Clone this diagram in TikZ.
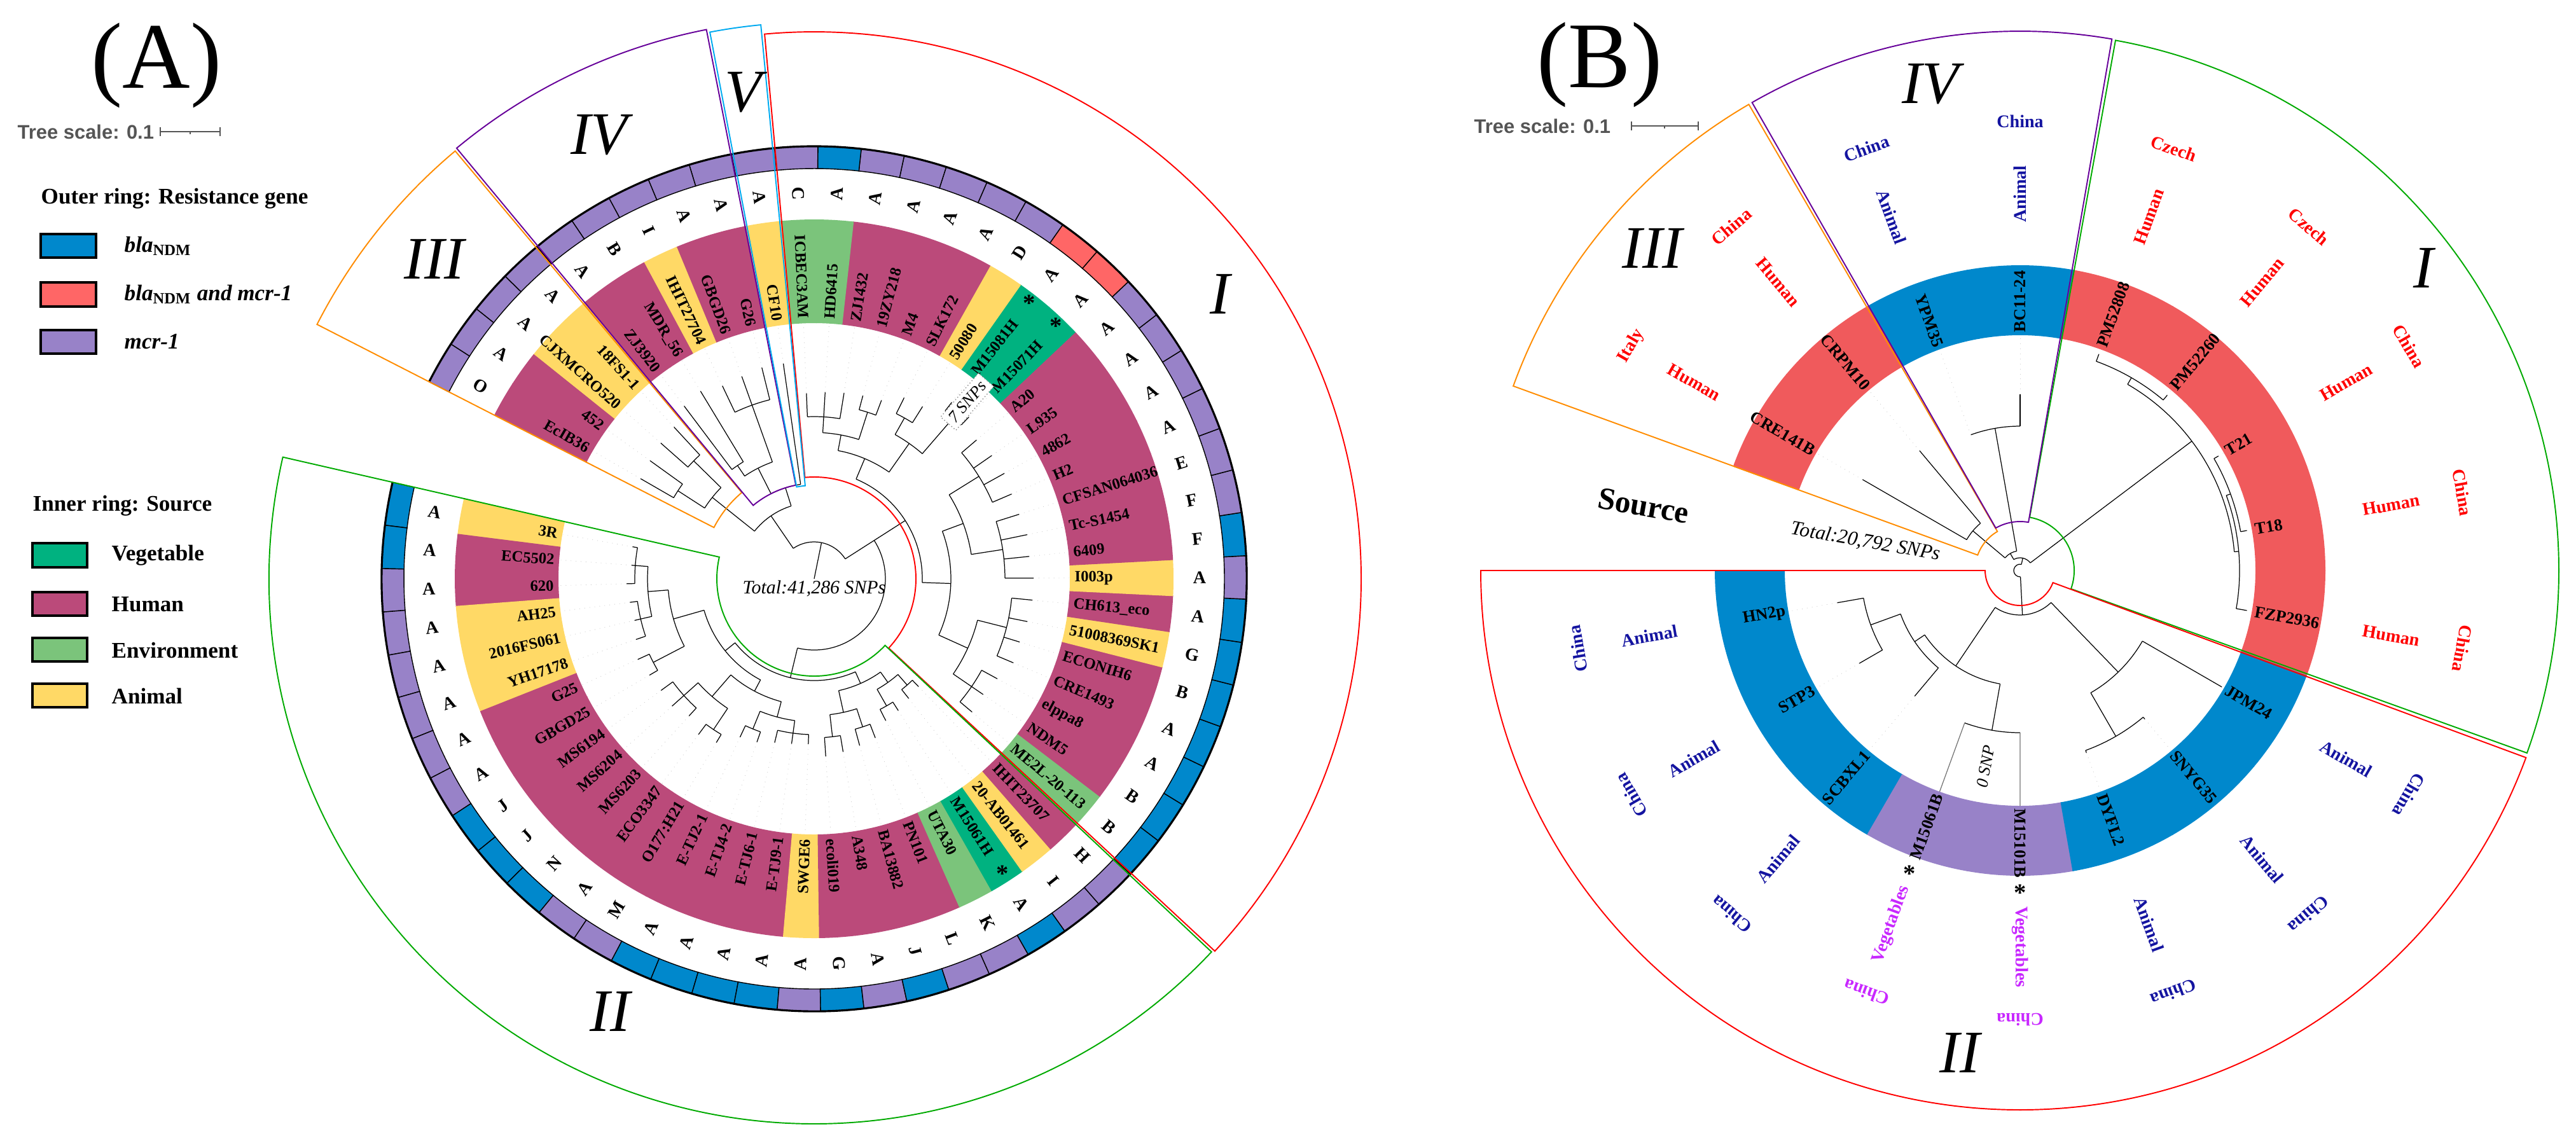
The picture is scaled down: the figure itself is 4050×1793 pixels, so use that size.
\documentclass[tikz,border=0pt]{standalone}
\usepackage{fontspec}
\setmainfont{Liberation Serif}
\setsansfont{Liberation Sans}

% source colours (inner ring)
\definecolor{srcveg}{RGB}{0,178,128}
\definecolor{srchum}{RGB}{187,74,122}
\definecolor{srcenv}{RGB}{123,196,123}
\definecolor{srcani}{RGB}{255,217,102}
% gene colours (outer ring)
\definecolor{gn}{RGB}{0,136,204}
\definecolor{gb}{RGB}{255,102,102}
\definecolor{gm}{RGB}{152,130,200}
\definecolor{rr}{RGB}{240,90,92}
% clade outlines
\definecolor{clRed}{RGB}{255,0,0}
\definecolor{clGreen}{RGB}{0,170,0}
\definecolor{clOrange}{RGB}{255,140,0}
\definecolor{clPurple}{RGB}{102,0,153}
\definecolor{clCyan}{RGB}{0,170,240}
% annotation text
\definecolor{tred}{RGB}{255,0,0}
\definecolor{tnavy}{RGB}{20,20,160}
\definecolor{tmag}{RGB}{200,40,255}
\definecolor{scalegray}{RGB}{85,85,85}

\tikzset{
  branch/.style={line width=0.35pt, black},
  tipdot/.style={line width=0.25pt, black!20, dotted},
  cladeline/.style={line width=0.55pt},
  leafA/.style={font=\fontsize{7}{8}\selectfont\bfseries, inner sep=0pt},
  leafB/.style={font=\fontsize{7.5}{8}\selectfont\bfseries, inner sep=0pt},
  ltrA/.style={font=\fontsize{8}{9}\selectfont\bfseries, inner sep=0pt},
  annot/.style={font=\fontsize{8}{9}\selectfont\bfseries, inner sep=0pt},
  numeral/.style={font=\fontsize{27}{30}\selectfont\itshape, inner sep=0pt},
  panel/.style={font=\fontsize{42}{44}\selectfont, inner sep=0pt},
  scaletxt/.style={font=\fontsize{8.8}{9}\selectfont\sffamily\bfseries, text=scalegray, inner sep=0pt},
  scalebar/.style={draw=scalegray, line width=0.6pt},
  legtxt/.style={font=\fontsize{10}{12}\selectfont\bfseries, inner sep=0pt, anchor=west},
  legbox/.style={draw=black, line width=1pt},
}

% tree A: angle of leaf position
\newcommand{\pA}[1]{170+5.763*(#1)}
\newcommand{\stA}[3]{\draw[branch] ({\pA{#1}}:#2) -- ({\pA{#1}}:#3);}
\newcommand{\grA}[3]{\draw[branch] ({\pA{#1}}:#3) arc[start angle={\pA{#1}}, end angle={\pA{#2}}, radius=#3];}
\newcommand{\lfA}[3]{\stA{#1}{#2}{#3}\draw[tipdot] ({\pA{#1}}:#3) -- ({\pA{#1}}:401);}
% tree B: plain degrees
\newcommand{\stD}[3]{\draw[branch] (#1:#2) -- (#1:#3);}
\newcommand{\arD}[3]{\draw[branch] (#1:#3) arc[start angle=#1, end angle=#2, radius=#3];}
\newcommand{\lfB}[3]{\stD{#1}{#2}{#3}\draw[tipdot] (#1:#3) -- (#1:369);}
% clade outline: colour, from, to, inner r, outer r
\newcommand{\cladebox}[5]{\draw[cladeline, #1] (#2:#4) -- (#2:#5) arc[start angle=#2, end angle=#3, radius=#5] -- (#3:#4) arc[start angle=#3, end angle=#2, radius=#4] -- cycle;}

\begin{document}
\begin{tikzpicture}[x=0.1mm, y=0.1mm]
\useasboundingbox (0,0) rectangle (4050,-1793);

%%%%%%%%%%%%%%%% panel A %%%%%%%%%%%%%%%%
\node[panel] (labA) at (246,-103) {(A)};
\node[scaletxt, anchor=west] (scA) at (27,-207) {Tree scale: 0.1};
\draw[scalebar] (252,-207) -- (346,-207);
\draw[scalebar] (252,-200) -- (252,-214) (346,-200) -- (346,-214) (299,-207) -- (299,-211);

% legend
\node[legtxt] (legOut) at (64,-312) {Outer ring: Resistance gene};
\draw[legbox, fill=gn] (64,-368) rectangle (151,-405);
\draw[legbox, fill=gb] (64,-444) rectangle (151,-482);
\draw[legbox, fill=gm] (64,-519) rectangle (151,-556);
\node[legtxt] (legN) at (195,-387) {\itshape bla\textsubscript{\upshape NDM}};
\node[legtxt] (legNM) at (195,-463) {\itshape bla\textsubscript{\upshape NDM} and mcr-1};
\node[legtxt] (legM) at (195,-537) {\itshape mcr-1};
\node[legtxt] (legIn) at (51,-795) {Inner ring: Source};
\draw[legbox, fill=srcveg] (51,-854) rectangle (137,-892);
\draw[legbox, fill=srchum] (51,-931) rectangle (137,-968);
\draw[legbox, fill=srcenv] (51,-1003) rectangle (137,-1040);
\draw[legbox, fill=srcani] (51,-1075) rectangle (137,-1112);
\node[legtxt] (legVeg) at (175,-873) {Vegetable};
\node[legtxt] (legHum) at (175,-950) {Human};
\node[legtxt] (legEnv) at (175,-1022) {Environment};
\node[legtxt] (legAni) at (175,-1094) {Animal};

\begin{scope}[shift={(1280,-910)}]
  % rings: source, gene, letter
  \foreach \i/\lab/\src/\ltr/\gene in {
    0/3R/ani/A/n, 1/EC5502/hum/A/n, 2/620/hum/A/m, 3/AH25/ani/A/m,
    4/2016FS061/ani/A/m, 5/YH17178/ani/A/m, 6/G25/hum/A/m, 7/GBGD25/hum/A/m,
    8/MS6194/hum/J/n, 9/MS6204/hum/J/n, 10/MS6203/hum/N/n, 11/ECO3347/hum/A/m,
    12/O177:H21/hum/M/m, 13/E-TJ2-1/hum/A/n, 14/E-TJ4-2/hum/A/n, 15/E-TJ6-1/hum/A/n,
    16/E-TJ9-1/hum/A/n, 17/SWGE6/ani/A/m, 18/ecoli019/hum/G/n, 19/A348/hum/A/m,
    20/BA13882/hum/J/n, 21/PN101/hum/L/m, 22/UTA30/env/K/m, 23/M15061H/veg/A/n,
    24/20-AB01461/ani/I/m, 25/IHIT23707/hum/H/m, 26/ME2L-20-113/env/B/n, 27/NDM5/hum/B/n,
    28/elppa8/hum/A/n, 29/CRE1493/hum/A/n, 30/ECONIH6/hum/B/n, 31/51008369SK1/ani/G/n,
    32/CH613\_eco/hum/A/n, 33/I003p/ani/A/m, 34/6409/hum/F/n, 35/Tc-S1454/hum/F/m,
    36/CFSAN064036/hum/E/m, 37/H2/hum/A/m, 38/4862/hum/A/m, 39/L935/hum/A/m,
    40/A20/hum/A/m, 41/M15071H/veg/A/b, 42/M15081H/veg/A/b, 43/50080/ani/D/m,
    44/SLK172/hum/A/m, 45/M4/hum/A/m, 46/19ZY218/hum/A/m, 47/ZJ1432/hum/A/m,
    48/HD6415/env/A/n, 49/ICBEC3AM/env/C/m, 50/CF10/ani/A/m, 51/G26/hum/A/m,
    52/GBGD26/hum/A/m, 53/IHIT27704/ani/I/m, 54/MDR\_56/hum/B/m, 55/ZJ3920/hum/A/m,
    56/18FS1-1/ani/A/m, 57/CJXMCRO520/ani/A/m, 58/452/hum/A/m, 59/EcIB36/hum/O/m}{
    \pgfmathsetmacro\ang{170+5.763*\i}
    \pgfmathsetmacro\aa{\ang-2.95}
    \pgfmathsetmacro\ab{\ang+2.95}
    \pgfmathsetmacro\ga{\ang-2.8815}
    \pgfmathsetmacro\gbb{\ang+2.8815}
    \fill[src\src] (\aa:402) arc[start angle=\aa, end angle=\ab, radius=402]
      -- (\ab:565) arc[start angle=\ab, end angle=\aa, radius=565] -- cycle;
    \filldraw[fill=g\gene, draw=black, line width=0.4pt] (\ga:645) arc[start angle=\ga, end angle=\gbb, radius=645]
      -- (\gbb:680) arc[start angle=\gbb, end angle=\ga, radius=680] -- cycle;
    \pgfmathtruncatemacro\rt{cos(\ang)>-0.01}
    \ifnum\rt=1
      \node[leafA, anchor=west, rotate=\ang] (lfA\i) at (\ang:409) {\lab};
      \node[ltrA, rotate=\ang] (ltA\i) at (\ang:606) {\ltr};
    \else
      \node[leafA, anchor=east, rotate=\ang-180] (lfA\i) at (\ang:409) {\lab};
      \node[ltrA, rotate=\ang-180] (ltA\i) at (\ang:606) {\ltr};
    \fi
  }
  \draw[line width=0.9pt] (167.12:680) arc[start angle=167.12, end angle=512.88, radius=680];
  \foreach \p in {23,41,42}
    \node[font=\fontsize{11}{11}\selectfont\bfseries, inner sep=0pt] (astA\p) at ({\pA{\p}}:550) {*};

  % tree: root
  \stA{46.59}{0}{58}
  \grA{38.625}{54.5625}{58}
  \stA{38.625}{58}{112}
  \grA{15}{38.625}{112}
  % clade II
  \stA{15}{112}{160}
  \grA{8.5}{21.5}{160}
  \stA{8.5}{160}{180} \grA{4.5}{12.5}{180}
  \stA{4.5}{180}{230} \grA{2.5}{6.5}{230}
  \stA{2.5}{230}{262} \grA{1}{4}{262}
  \stA{1}{262}{282} \grA{0}{2}{282} \lfA{0}{282}{290} \lfA{1}{282}{288} \lfA{2}{282}{295}
  \stA{4}{262}{280} \grA{3}{5}{280} \lfA{3}{280}{292} \lfA{4}{280}{290} \lfA{5}{280}{296}
  \stA{6.5}{230}{285} \grA{6}{7}{285} \lfA{6}{285}{305} \lfA{7}{285}{300}
  \stA{12.5}{180}{200} \grA{10.25}{14.75}{200}
  \stA{10.25}{200}{245} \grA{9}{11.5}{245}
  \stA{9}{245}{275} \grA{8}{10}{275} \lfA{8}{275}{298} \lfA{9}{275}{300} \lfA{10}{275}{292}
  \stA{11.5}{245}{285} \grA{11}{12}{285} \lfA{11}{285}{305} \lfA{12}{285}{300}
  \stA{14.75}{200}{225} \grA{13.5}{16}{225}
  \stA{13.5}{225}{255} \grA{13}{14}{255} \lfA{13}{255}{275} \lfA{14}{255}{272}
  \stA{16}{225}{245} \grA{15}{17}{245} \lfA{15}{245}{265} \lfA{16}{245}{262} \lfA{17}{245}{260}
  \stA{21.5}{160}{180} \grA{19.5}{23.5}{180}
  \stA{19.5}{180}{215} \grA{18.5}{20.5}{215}
  \stA{18.5}{215}{250} \grA{18}{19}{250} \lfA{18}{250}{280} \lfA{19}{250}{276}
  \stA{20.5}{215}{245} \grA{20}{21}{245} \lfA{20}{245}{272} \lfA{21}{245}{268}
  \stA{23.5}{180}{200} \grA{22.5}{24.5}{200}
  \stA{22.5}{200}{230} \grA{22}{23}{230} \lfA{22}{230}{250} \lfA{23}{230}{246}
  \stA{24.5}{200}{222} \grA{24}{25}{222} \lfA{24}{222}{240} \lfA{25}{222}{236}
  % clade I
  \stA{38.625}{112}{170}
  \grA{32.625}{44.625}{170}
  \stA{32.625}{170}{215} \grA{28.75}{36.5}{215}
  \stA{28.75}{215}{265} \grA{27}{30.5}{265}
  \stA{27}{265}{300} \grA{26}{28}{300} \lfA{26}{300}{325} \lfA{27}{300}{322} \lfA{28}{300}{328}
  \stA{30.5}{265}{312} \grA{29}{32}{312} \lfA{29}{312}{340} \lfA{30}{312}{338} \lfA{31}{312}{342} \lfA{32}{312}{345}
  \stA{36.5}{215}{250} \grA{34.5}{38.5}{250}
  \stA{34.5}{250}{300} \grA{33}{36}{300} \lfA{33}{300}{345} \lfA{34}{300}{340} \lfA{35}{300}{342} \lfA{36}{300}{338}
  \stA{38.5}{250}{305} \grA{37}{40}{305} \lfA{37}{305}{338} \lfA{38}{305}{342} \lfA{39}{305}{340} \lfA{40}{305}{336}
  \stA{44.625}{170}{205} \grA{42.5}{46.75}{205}
  \stA{42.5}{205}{260} \grA{41.5}{43.5}{260}
  \stA{41.5}{260}{335} \grA{41}{42}{335} \lfA{41}{335}{352} \lfA{42}{335}{352}
  \stA{43.5}{260}{290} \grA{43}{44}{290} \lfA{43}{290}{320} \lfA{44}{290}{318}
  \stA{46.75}{205}{230} \grA{45.5}{48}{230}
  \stA{45.5}{230}{275} \grA{45}{46}{275} \lfA{45}{275}{300} \lfA{46}{275}{298}
  \stA{48}{230}{255} \grA{47}{49}{255} \lfA{47}{255}{296} \lfA{48}{255}{294} \lfA{49}{255}{292}
  % clades V, IV, III
  \stA{54.5625}{58}{120} \grA{51.625}{57.5}{120}
  \stA{51.625}{120}{150} \grA{50}{53.25}{150}
  \lfA{50}{150}{342}
  \stA{53.25}{150}{195} \grA{52}{54.5}{195}
  \stA{52}{195}{290} \grA{51}{53}{290} \lfA{51}{290}{342} \lfA{52}{290}{338} \lfA{53}{290}{336}
  \stA{54.5}{195}{215} \grA{54}{55}{215} \lfA{54}{215}{345} \lfA{55}{215}{340}
  \stA{57.5}{120}{205} \grA{56.5}{58.5}{205}
  \stA{56.5}{205}{265} \grA{56}{57}{265} \lfA{56}{265}{325} \lfA{57}{265}{322}
  \stA{58.5}{205}{255} \grA{58}{59}{255} \lfA{58}{255}{318} \lfA{59}{255}{315}

  \node[draw=black!45, densely dotted, fill=white, rotate=49.2, inner sep=2pt,
        font=\fontsize{7.5}{8}\selectfont\itshape] (snp7) at ({\pA{41.5}}:368) {7 SNPs};
  \node[font=\fontsize{8.5}{9}\selectfont\itshape] (totA) at (0,-15) {Total:41,286 SNPs};

  % clade outlines
  \cladebox{clRed}{-42.9}{95.2}{160}{860}
  \cladebox{clGreen}{167.1}{316.8}{153}{857}
  \cladebox{clOrange}{130.0}{152.9}{177}{878}
  \cladebox{clPurple}{101.1}{129.7}{150}{880}
  \cladebox{clCyan}{95.5}{100.8}{147}{875}
\end{scope}

\node[numeral] (numAI) at (1918,-462) {I};
\node[numeral] (numAII) at (959,-1590) {II};
\node[numeral] (numAIII) at (683,-407) {III};
\node[numeral] (numAIV) at (942,-212) {IV};
\node[numeral] (numAV) at (1168,-145) {V};

%%%%%%%%%%%%%%%% panel B %%%%%%%%%%%%%%%%
\node[panel] (labB) at (2515,-102) {(B)};
\node[scaletxt, anchor=west] (scB) at (2317,-198) {Tree scale: 0.1};
\draw[scalebar] (2565,-198) -- (2670,-198);
\draw[scalebar] (2565,-191) -- (2565,-205) (2670,-191) -- (2670,-205) (2617,-198) -- (2617,-202);
\node[font=\fontsize{14}{16}\selectfont\bfseries, rotate=-10] (srcB) at (2584,-795) {Source};

\begin{scope}[shift={(3176,-897)}]
  \foreach \i/\lab/\gc/\srcw/\scol/\cty in {
    0/HN2p/gn/Animal/tnavy/China, 1/STP3/gn/Animal/tnavy/China,
    2/SCBXL1/gn/Animal/tnavy/China, 3/M15061B/gm/Vegetables/tmag/China,
    4/M15101B/gm/Vegetables/tmag/China, 5/DYFL2/gn/Animal/tnavy/China,
    6/SNYG35/gn/Animal/tnavy/China, 7/JPM24/gn/Animal/tnavy/China,
    8/FZP2936/rr/Human/tred/China, 9/T18/rr/Human/tred/China,
    10/T21/rr/Human/tred/China, 11/PM52260/rr/Human/tred/Czech,
    12/PM52808/rr/Human/tred/Czech, 13/BC11-24/gn/Animal/tnavy/China,
    14/YPM35/gn/Animal/tnavy/China, 15/CRPM10/rr/Human/tred/China,
    16/CRE141B/rr/Human/tred/Italy}{
    \pgfmathsetmacro\ang{190+20*\i}
    \pgfmathsetmacro\aa{\ang-10.1}
    \pgfmathsetmacro\ab{\ang+10.1}
    \fill[\gc] (\aa:370) arc[start angle=\aa, end angle=\ab, radius=370]
      -- (\ab:480) arc[start angle=\ab, end angle=\aa, radius=480] -- cycle;
    \pgfmathtruncatemacro\rt{cos(\ang)>-0.01}
    \ifnum\rt=1
      \node[leafB, anchor=west, rotate=\ang] (lfB\i) at (\ang:374) {\lab};
      \node[annot, text=\scol, rotate=\ang] (swB\i) at (\ang:592) {\srcw};
    \else
      \node[leafB, anchor=east, rotate=\ang-180] (lfB\i) at (\ang:374) {\lab};
      \node[annot, text=\scol, rotate=\ang-180] (swB\i) at (\ang:592) {\srcw};
    \fi
    \node[annot, text=\scol, rotate=\ang-90] (ctB\i) at (\ang:706) {\cty};
  }
  \node[font=\fontsize{11}{11}\selectfont\bfseries, inner sep=0pt] (astB3) at (250:507) {*};
  \node[font=\fontsize{11}{11}\selectfont\bfseries, inner sep=0pt] (astB4) at (270:507) {*};

  % tree: root
  \arD{78}{273}{10}
  \stD{78}{10}{20}
  \arD{37}{120}{20}
  \stD{120}{20}{31}
  \arD{100}{140}{31}
  % clade I
  \stD{37}{20}{338}
  \arD{5}{60}{338}
  \stD{60}{338}{350} \arD{50}{70}{350}
  \lfB{50}{350}{360} \lfB{70}{350}{362}
  \stD{5}{338}{345} \arD{-10}{20}{345}
  \lfB{-10}{345}{362}
  \stD{20}{345}{352} \arD{10}{30}{352}
  \lfB{10}{352}{362} \lfB{30}{352}{360}
  % clade IV
  \stD{100}{31}{227} \arD{90}{110}{227}
  \lfB{90}{227}{277}
  \draw[tipdot] (110:227) -- (110:369);
  % clade III
  \stD{140}{31}{97} \arD{130}{150}{97}
  \lfB{130}{97}{246} \lfB{150}{97}{286}
  % clade II
  \stD{273}{10}{70}
  \arD{236}{314}{70}
  \stD{236}{70}{181} \arD{214}{260}{181}
  \stD{214}{181}{200} \arD{200}{230}{200}
  \stD{200}{200}{250} \arD{190}{210}{250}
  \lfB{190}{250}{292} \lfB{210}{250}{292}
  \lfB{230}{200}{258}
  \stD{260}{181}{255} \arD{250}{270}{255}
  \draw[line width=0.35pt, black!55] (250:255) -- (250:370) (270:255) -- (270:370);
  \node[font=\fontsize{7.5}{8}\selectfont\itshape, rotate=80] (snp0) at (260:313) {0 SNP};
  \stD{314}{70}{222} \arD{300}{330}{222}
  \lfB{330}{222}{366}
  \stD{300}{222}{301} \arD{290}{310}{301}
  \lfB{290}{301}{305} \lfB{310}{301}{305}

  \node[font=\fontsize{9}{10}\selectfont\itshape, rotate=-10] (totB) at (-243,45) {Total:20,792 SNPs};

  % clade outlines
  \cladebox{clGreen}{-19.8}{79.8}{85}{847}
  \cladebox{clRed}{180}{339.7}{55}{848}
  \cladebox{clOrange}{120.2}{160}{71}{848}
  \cladebox{clPurple}{80.2}{119.8}{77}{848}
\end{scope}

\node[numeral] (numBI) at (3810,-421) {I};
\node[numeral] (numBII) at (3081,-1655) {II};
\node[numeral] (numBIII) at (2598,-390) {III};
\node[numeral] (numBIV) at (3035,-132) {IV};

\end{tikzpicture}
\end{document}
